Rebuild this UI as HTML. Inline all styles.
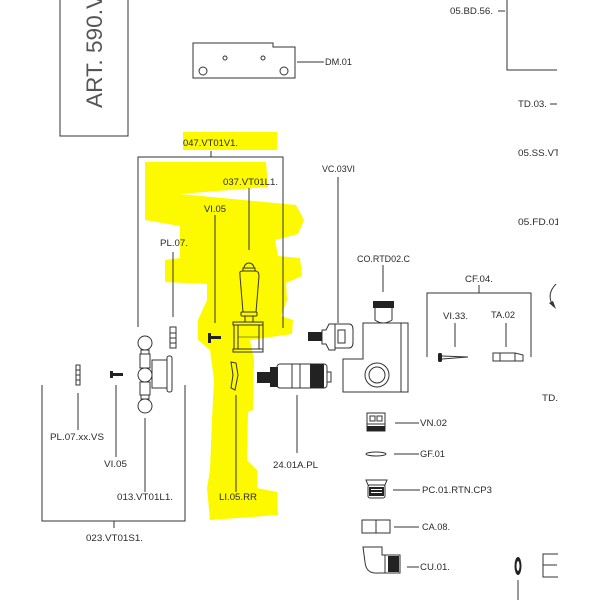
<!DOCTYPE html>
<html><head><meta charset="utf-8">
<style>
html,body{margin:0;padding:0;background:#fff;}
svg{display:block;}
text{font-family:"Liberation Sans",sans-serif;font-size:9.5px;fill:#2a2a2a;}
</style></head>
<body>
<svg width="600" height="600" viewBox="0 0 600 600" xmlns="http://www.w3.org/2000/svg">
<rect width="600" height="600" fill="#fff"/>

<!-- yellow highlight -->
<g fill="#fdfa00">
<rect x="183" y="132" width="94" height="18"/>
<polygon points="145,162 266,162 268,187 180,194 296,205 304,220 298,234 275,240 278,256 300,258 302,276 286,283 287,300 281,316 293,320 292,334 250,340 254,360 253,410 248,412 247,460 257,470 257,488 277,492 278,515 210,520 207,488 210,470 212,420 214,380 210,350 198,340 198,320 207,300 207,284 165,282 165,260 180,258 180,226 145,220"/>
</g>

<g stroke="#333" stroke-width="1" fill="none">
<!-- ART box -->
<rect x="60" y="-5" width="68" height="141"/>
<!-- DM plate -->
<path d="M193,43 H273 V47 H295 V78 H193 Z"/>
<circle cx="225" cy="58" r="2"/><circle cx="263" cy="58" r="2"/>
<circle cx="203" cy="71" r="4"/><circle cx="284" cy="71" r="4"/>
<line x1="297" y1="62" x2="324" y2="62"/>
<!-- top right -->
<line x1="498" y1="11" x2="505" y2="11"/>
<polyline points="507,0 507,70 557,70"/>
<line x1="550" y1="104" x2="557" y2="104"/>
<path d="M556,284 Q546,294 553,306"/>

<!-- 047 bracket -->
<line x1="211" y1="151" x2="211" y2="157"/>
<polyline points="138,327 138,157 283,157 283,328"/>
<line x1="249" y1="188" x2="249" y2="250"/>
<line x1="215" y1="215" x2="215" y2="323"/>
<line x1="173" y1="252" x2="173" y2="317"/>
<line x1="338" y1="177" x2="338" y2="323"/>
<line x1="383" y1="265" x2="383" y2="292"/>
<!-- CF bracket -->
<line x1="479" y1="285" x2="479" y2="293"/>
<polyline points="427,357 427,293 531,293 531,357"/>
<line x1="455" y1="323" x2="455" y2="347"/>
<line x1="506" y1="323" x2="506" y2="347"/>
<!-- lower leaders -->
<line x1="297" y1="395" x2="297" y2="453"/>
<line x1="236" y1="395" x2="236" y2="492"/>
<line x1="145" y1="418" x2="145" y2="492"/>
<line x1="78" y1="393" x2="78" y2="430"/>
<line x1="116" y1="385" x2="116" y2="457"/>
<polyline points="42,385 42,521 185,521 185,385"/>
<line x1="114" y1="521" x2="114" y2="528"/>
<!-- right column leaders -->
<line x1="395" y1="423" x2="419" y2="423"/>
<line x1="394" y1="454" x2="419" y2="454"/>
<line x1="393" y1="490" x2="420" y2="490"/>
<line x1="394" y1="527" x2="419" y2="527"/>
<line x1="407" y1="567" x2="419" y2="567"/>
<line x1="518" y1="580" x2="518" y2="600"/>
<!-- E shape -->
<rect x="543" y="554" width="16" height="23"/>
<line x1="543" y1="565" x2="557" y2="565"/>
</g>
<polygon points="549,303 556,309 553,301" fill="#333"/>

<!-- lever handle 037 -->
<g stroke="#333" stroke-width="1" fill="none">
<path d="M244,268 A5,5 0 0 1 254,268"/>
<rect x="243" y="268" width="12" height="3"/>
<path d="M240,274 Q239,271 243,271 H255 Q259,271 259,276 L256,312 H243 L240,276 Z"/>
<rect x="241" y="312" width="16" height="4" rx="1"/>
<rect x="245" y="316" width="8" height="6"/>
<rect x="233" y="322" width="30" height="3"/>
<rect x="233" y="349" width="30" height="3"/>
<rect x="234" y="325" width="4" height="24"/>
<rect x="259" y="325" width="4" height="24"/>
<line x1="238" y1="337" x2="259" y2="337" stroke-width="0.6"/>
<!-- LI.05 -->
<path d="M231,362 L236,363 L238,375 L235,390 L231,388 L233,375 Z"/>
<!-- PL.07 part -->
<rect x="170" y="327" width="6" height="21"/>
<line x1="170" y1="333" x2="176" y2="333"/><line x1="170" y1="338" x2="176" y2="338"/><line x1="170" y1="343" x2="176" y2="343"/>
<rect x="76" y="365" width="4" height="20"/>
<line x1="76" y1="370" x2="80" y2="370"/><line x1="76" y1="375" x2="80" y2="375"/><line x1="76" y1="380" x2="80" y2="380"/>

<!-- cross handle 013 -->
<circle cx="145" cy="343" r="7"/>
<rect x="141" y="350" width="8" height="4"/>
<rect x="140" y="354" width="10" height="14"/>
<circle cx="145" cy="375" r="7"/>
<rect x="140" y="382" width="10" height="13"/>
<rect x="141" y="395" width="8" height="4"/>
<circle cx="145" cy="406" r="7"/>
<rect x="152" y="360" width="15" height="28"/>
<rect x="167" y="356" width="5" height="36" rx="2"/>

<!-- CO body -->
<path d="M363,323 H408 V392 H343 V359 H363 Z"/>
<line x1="401" y1="323" x2="401" y2="392"/>
<path d="M375,308 V320 Q383,326 392,320 V308"/>
<circle cx="377" cy="375" r="12"/>
<circle cx="377" cy="375" r="8"/>

<!-- VC part -->
<path d="M322,330 H326 L329,324 H335 V350 H329 L326,344 H322 Z"/>
<path d="M335,324 H349 Q353,324 353,330 V342 Q353,348 349,348 H335 Z"/>
<rect x="338" y="330" width="7" height="13"/>

<!-- cartridge -->
<rect x="277" y="364" width="50" height="24" rx="3"/>
<rect x="327" y="372" width="4" height="10"/>
<line x1="292" y1="364" x2="292" y2="388"/>
<line x1="300" y1="364" x2="300" y2="388"/>

<!-- CF parts -->
<path d="M442,356 L468,357 L442,359"/>
<path d="M493,353 H515 L523,355 V361 H493 Z"/>
<line x1="500" y1="353" x2="500" y2="361"/>
<line x1="515" y1="353" x2="515" y2="361"/>

<!-- right column parts -->
<rect x="367" y="413" width="18" height="18"/>
<rect x="370" y="416" width="5" height="5"/><rect x="377" y="416" width="5" height="5"/>
<line x1="367" y1="424" x2="385" y2="424"/>
<ellipse cx="376" cy="454" rx="10" ry="2"/>
<path d="M366,480 H387 L385,485 H368 Z"/>
<rect x="368" y="485" width="17" height="13" rx="2"/>
<rect x="362" y="520" width="28" height="13"/>
<line x1="376" y1="520" x2="376" y2="533"/>
<path d="M363,547 H382 V555 H385 V573 H378 Q366,574 365,562 Z"/>
<rect x="385" y="555" width="15" height="18"/>
</g>

<!-- dark fills -->
<g fill="#222">
<rect x="373" y="301" width="21" height="7"/>
<rect x="308" y="332" width="14" height="9"/>
<rect x="257" y="372" width="13" height="11"/>
<rect x="270" y="367" width="8" height="20"/>
<rect x="310" y="364" width="14" height="24"/>
<rect x="208" y="333" width="3" height="10"/>
<rect x="211" y="336" width="10" height="3"/>
<rect x="110" y="371" width="3" height="7"/>
<rect x="113" y="373" width="10" height="3"/>
<rect x="438" y="353" width="4" height="9" rx="1.5"/>
<rect x="367" y="426" width="18" height="5"/>
<rect x="369" y="487" width="15" height="9"/>
<rect x="388" y="556" width="11" height="16"/>
<ellipse cx="518" cy="566" rx="3.5" ry="9"/>
</g>
<ellipse cx="518" cy="566" rx="1.5" ry="5" fill="#fff"/>
<g fill="#fff"><rect x="371" y="489" width="11" height="1"/><rect x="371" y="492" width="11" height="1"/></g>

<!-- texts -->
<text transform="translate(102,108) rotate(-90)" style="font-size:22px;fill:#555" textLength="128" lengthAdjust="spacingAndGlyphs">ART. 590.VT</text>
<text x="450" y="14" textLength="43" lengthAdjust="spacingAndGlyphs">05.BD.56.</text>
<text x="325" y="65" textLength="27" lengthAdjust="spacingAndGlyphs">DM.01</text>
<text x="518" y="107" textLength="29" lengthAdjust="spacingAndGlyphs">TD.03.</text>
<text x="518" y="156" textLength="42" lengthAdjust="spacingAndGlyphs">05.SS.VT</text>
<text x="518" y="225" textLength="42" lengthAdjust="spacingAndGlyphs">05.FD.01</text>
<text x="542" y="401" textLength="16" lengthAdjust="spacingAndGlyphs">TD.</text>
<text x="183" y="146" textLength="55" lengthAdjust="spacingAndGlyphs">047.VT01V1.</text>
<text x="223" y="185" textLength="55" lengthAdjust="spacingAndGlyphs">037.VT01L1.</text>
<text x="322" y="172" textLength="33" lengthAdjust="spacingAndGlyphs">VC.03VI</text>
<text x="204" y="212" textLength="22" lengthAdjust="spacingAndGlyphs">VI.05</text>
<text x="160" y="246" textLength="28" lengthAdjust="spacingAndGlyphs">PL.07.</text>
<text x="357" y="262" textLength="53" lengthAdjust="spacingAndGlyphs">CO.RTD02.C</text>
<text x="465" y="282" textLength="28" lengthAdjust="spacingAndGlyphs">CF.04.</text>
<text x="443" y="319" textLength="25" lengthAdjust="spacingAndGlyphs">VI.33.</text>
<text x="491" y="318" textLength="24" lengthAdjust="spacingAndGlyphs">TA.02</text>
<text x="50" y="440" textLength="54" lengthAdjust="spacingAndGlyphs">PL.07.xx.VS</text>
<text x="104" y="467" textLength="23" lengthAdjust="spacingAndGlyphs">VI.05</text>
<text x="273" y="468" textLength="45" lengthAdjust="spacingAndGlyphs">24.01A.PL</text>
<text x="117" y="500" textLength="56" lengthAdjust="spacingAndGlyphs">013.VT01L1.</text>
<text x="219" y="500" textLength="38" lengthAdjust="spacingAndGlyphs">LI.05.RR</text>
<text x="86" y="541" textLength="57" lengthAdjust="spacingAndGlyphs">023.VT01S1.</text>
<text x="420" y="426" textLength="27" lengthAdjust="spacingAndGlyphs">VN.02</text>
<text x="420" y="457" textLength="25" lengthAdjust="spacingAndGlyphs">GF.01</text>
<text x="422" y="493" textLength="70" lengthAdjust="spacingAndGlyphs">PC.01.RTN.CP3</text>
<text x="422" y="530" textLength="28" lengthAdjust="spacingAndGlyphs">CA.08.</text>
<text x="420" y="570" textLength="30" lengthAdjust="spacingAndGlyphs">CU.01.</text>

<!-- crop right edge -->
<rect x="558" y="0" width="42" height="600" fill="#fff"/>
</svg>
</body></html>
